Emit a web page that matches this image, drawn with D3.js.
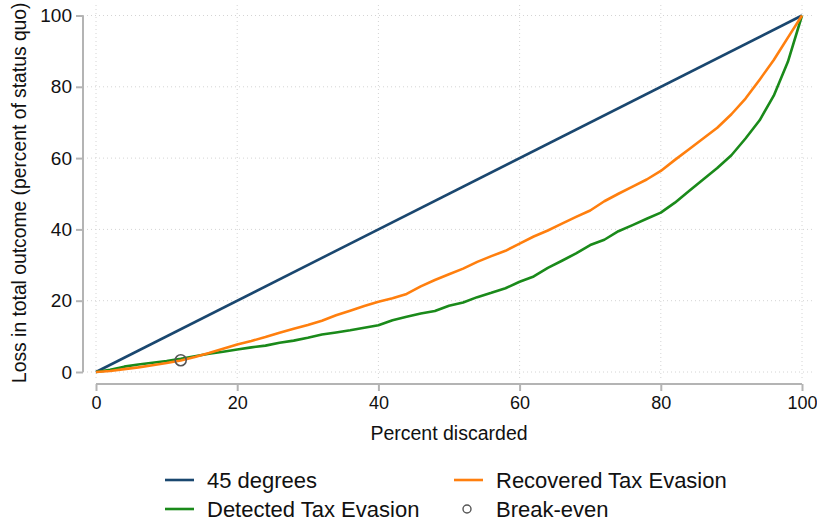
<!DOCTYPE html>
<html>
<head>
<meta charset="utf-8">
<script src="https://cdn.jsdelivr.net/npm/d3@7"></script>
<style>
  html, body { margin: 0; padding: 0; background: #fff; }
  svg { display: block; font-family: "Liberation Sans", Arial, sans-serif; }
</style>
</head>
<body>
<svg id="chart" width="817" height="525"></svg>
<script>
// Share of observations discarded (percent)
const discarded = d3.range(0, 101, 2);

// Loss in total outcome, percent of status quo
const recovered = [
  0, 0.3, 0.8, 1.3, 1.9, 2.5, 3.2, 4.2, 5.3, 6.5,
  7.7, 8.7, 9.8, 11.0, 12.1, 13.2, 14.4, 15.9, 17.2, 18.5,
  19.7, 20.7, 21.9, 24.0, 25.8, 27.4, 29.0, 30.9, 32.5, 34.0,
  36.0, 38.0, 39.7, 41.6, 43.5, 45.3, 47.9, 50.0, 52.0, 54.0,
  56.4, 59.5, 62.5, 65.5, 68.5, 72.3, 76.7, 82.0, 87.5, 93.8,
  100
];
const detected = [
  0, 0.6, 1.5, 2.1, 2.6, 3.1, 3.7, 4.4, 5.1, 5.7,
  6.3, 6.9, 7.4, 8.2, 8.8, 9.6, 10.5, 11.1, 11.7, 12.4,
  13.1, 14.5, 15.5, 16.4, 17.1, 18.6, 19.5, 21.0, 22.2, 23.5,
  25.3, 26.8, 29.2, 31.2, 33.3, 35.6, 37.1, 39.5, 41.2, 43.0,
  44.7, 47.5, 50.8, 54.0, 57.2, 60.8, 65.5, 70.6, 77.5, 87.0,
  100
];
const diagonal = [0, 100];
const breakEven = [{ x: 12, y: 3.3 }];

const xTicks = [0, 20, 40, 60, 80, 100];
const yTicks = [0, 20, 40, 60, 80, 100];

const colors = { diag: "#1a476f", recovered: "#ff7f0e", detected: "#1a8a1a", marker: "#555555" };

const svg = d3.select("#chart");

const x = d3.scaleLinear().domain([0, 100]).range([96, 802]);
const y = d3.scaleLinear().domain([0, 100]).range([372, 15.5]);

// plot region bounds for grid lines
const plotLeft = 83, plotRight = 813, plotTop = 5, plotBottom = 381;

// grid
const grid = svg.append("g").attr("stroke", "#d4d4d4").attr("stroke-width", 1)
  .attr("stroke-dasharray", "1,3");
grid.selectAll("line.h").data(yTicks).join("line")
  .attr("x1", plotLeft).attr("x2", plotRight)
  .attr("y1", d => y(d)).attr("y2", d => y(d));
grid.selectAll("line.v").data(xTicks).join("line")
  .attr("x1", d => x(d)).attr("x2", d => x(d))
  .attr("y1", plotTop).attr("y2", plotBottom);

// axes
const axisColor = "#b4b4b4";
const yAxis = svg.append("g").attr("transform", "translate(83,0)")
  .call(d3.axisLeft(y).tickValues(yTicks).tickSize(7).tickPadding(4));
const xAxis = svg.append("g").attr("transform", "translate(0,384)")
  .call(d3.axisBottom(x).tickValues(xTicks).tickSize(7).tickPadding(5));
[yAxis, xAxis].forEach(a => {
  a.select(".domain").attr("stroke", axisColor).attr("stroke-width", 2);
  a.selectAll(".tick line").attr("stroke", axisColor).attr("stroke-width", 2);
  a.selectAll(".tick text").attr("fill", "#111")
    .attr("font-family", "Liberation Sans, Arial, sans-serif");
});
yAxis.selectAll(".tick text").attr("font-size", 19);
xAxis.selectAll(".tick text").attr("font-size", 18);
// drop the outer tick stubs that axis domains draw
yAxis.select(".domain").attr("d", `M0,${y(100)}V${y(0)}`);
xAxis.select(".domain").attr("d", `M${x(0)},0H${x(100)}`);

// axis titles
svg.append("text").attr("x", (x(0) + x(100)) / 2).attr("y", 440)
  .attr("text-anchor", "middle").attr("font-size", 19.5).attr("fill", "#111")
  .text("Percent discarded");
svg.append("text")
  .attr("transform", `translate(26,${(y(0) + y(100)) / 2 - 1}) rotate(-90)`)
  .attr("text-anchor", "middle").attr("font-size", 19.3).attr("fill", "#111")
  .text("Loss in total outcome (percent of status quo)");

// series
const line = d3.line().x(d => x(d[0])).y(d => y(d[1]));
const seriesLayer = svg.append("g").attr("fill", "none").attr("stroke-width", 2.6)
  .attr("stroke-linejoin", "round");
seriesLayer.append("path")
  .attr("d", line(diagonal.map(v => [v, v])))
  .attr("stroke", colors.diag);
seriesLayer.append("path")
  .attr("d", line(discarded.map((d, i) => [d, detected[i]])))
  .attr("stroke", colors.detected);
seriesLayer.append("path")
  .attr("d", line(discarded.map((d, i) => [d, recovered[i]])))
  .attr("stroke", colors.recovered);

svg.append("g").selectAll("circle").data(breakEven).join("circle")
  .attr("cx", d => x(d.x)).attr("cy", d => y(d.y)).attr("r", 5.5)
  .attr("fill", "none").attr("stroke", colors.marker).attr("stroke-width", 1.6);

// legend
const legendItems = [
  { label: "45 degrees", color: colors.diag, type: "line", col: 0, row: 0 },
  { label: "Recovered Tax Evasion", color: colors.recovered, type: "line", col: 1, row: 0 },
  { label: "Detected Tax Evasion", color: colors.detected, type: "line", col: 0, row: 1 },
  { label: "Break-even", color: colors.marker, type: "marker", col: 1, row: 1 }
];
const colX = [165, 454];
const rowY = [480, 509];
const lg = svg.append("g");
legendItems.forEach(it => {
  const gx = colX[it.col], gy = rowY[it.row];
  if (it.type === "line") {
    lg.append("line").attr("x1", gx).attr("x2", gx + 29).attr("y1", gy).attr("y2", gy)
      .attr("stroke", it.color).attr("stroke-width", 2.6);
  } else {
    lg.append("circle").attr("cx", gx + 13).attr("cy", gy).attr("r", 4)
      .attr("fill", "none").attr("stroke", it.color).attr("stroke-width", 1.4);
  }
  lg.append("text").attr("x", gx + 42).attr("y", gy).attr("dy", "0.35em")
    .attr("font-size", 22).attr("fill", "#111").text(it.label);
});
</script>
</body>
</html>
